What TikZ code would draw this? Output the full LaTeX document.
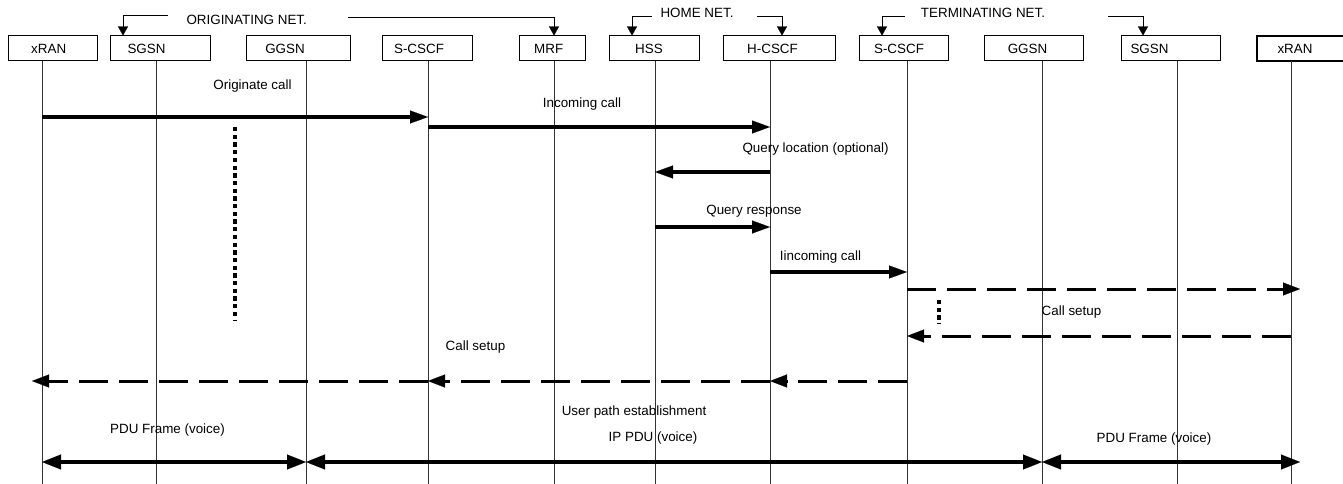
\documentclass[tikz,border=0pt]{standalone}
\usepackage{fontspec}
\setmainfont{Liberation Sans}
\usetikzlibrary{arrows.meta}
\begin{document}
\begin{tikzpicture}[x=1pt,y=-1pt,
  every node/.style={font=\fontsize{13.4}{16}\selectfont, inner sep=0pt},
  box/.style={draw, line width=1pt, minimum height=25pt},
  life/.style={line width=1pt, black!80},
  msg/.style={line width=3.3pt, -{Triangle[length=18pt,width=13pt,line width=0.1pt]}},
  reply/.style={line width=3pt, dash pattern=on 29pt off 11pt,
                -{Triangle[length=17pt,width=13pt,line width=0.1pt]}},
  pdu/.style={line width=3.3pt,
              {Triangle[length=19pt,width=15pt,line width=0.1pt]}-{Triangle[length=19pt,width=15pt,line width=0.1pt]}},
  brk/.style={line width=1pt, -{Triangle[length=9pt,width=10pt,line width=0.1pt]}},
  wait/.style={line width=4.3pt, dash pattern=on 4.3pt off 3.4pt},
]
\useasboundingbox (0,0) rectangle (1343,484);
\clip (0,0) rectangle (1343,484);

% entity boxes: name / centre x / width / label x / label
\foreach \n/\cx/\w/\tx/\t in {
  oxran/52.5/89/48.7/xRAN, osgsn/160/100/146.5/SGSN, oggsn/298/104/285/GGSN,
  oscscf/427/90/419/S-CSCF, mrf/552/66/548.7/MRF, hss/654/90/649/HSS,
  hcscf/779/112/772.5/H-CSCF, tscscf/903.5/89/899/S-CSCF,
  tggsn/1033.5/99/1027.5/GGSN, tsgsn/1170.5/99/1149.5/SGSN} {
  \node[box, minimum width=\w pt] (\n) at (\cx,48.5) {};
  \node (\n-t) at (\tx,48.5) {\t};
}
\node[box, line width=2pt, minimum width=90pt] (txran) at (1302,48.5) {};
\node (txran-t) at (1295,48.5) {xRAN};

% lifelines
\foreach \n/\x in {oxran/42, osgsn/156, oggsn/306, oscscf/428, mrf/554, hss/655,
  hcscf/770, tscscf/907, tggsn/1042, tsgsn/1177, txran/1291} {
  \coordinate (l-\n) at (\x,61);
  \coordinate (e-\n) at (\x,484);
  \draw[life] (l-\n) -- (e-\n);
}

% network groupings
\node (h-orig) at (246.7,20) {ORIGINATING NET.};
\node (h-home) at (697,13) {HOME NET.};
\node (h-term) at (983,13) {TERMINATING NET.};
\coordinate (b1) at (168,16);
\coordinate (b2) at (348,18);
\coordinate (b3) at (652,17);
\coordinate (b4) at (757,17);
\coordinate (b5) at (905,17);
\coordinate (b6) at (1108,17);
\draw[brk] (b1) -| ([xshift=-37pt]osgsn.north);
\draw[brk] (b2) -| ([xshift=2pt]mrf.north);
\draw[brk] (b3) -| ([xshift=-22pt]hss.north);
\draw[brk] (b4) -| ([xshift=3pt]hcscf.north);
\draw[brk] (b5) -| ([xshift=-21.5pt]tscscf.north);
\draw[brk] (b6) -| ([xshift=-27.5pt]tsgsn.north);

% message rows
\coordinate (r1) at (0,117);
\coordinate (r2) at (0,127);
\coordinate (r3) at (0,172);
\coordinate (r4) at (0,227);
\coordinate (r5) at (0,272);
\coordinate (r6) at (0,289);
\coordinate (r7) at (0,336);
\coordinate (r8) at (0,381);
\coordinate (r9) at (0,462);

% waiting periods
\draw[wait] (235,127) -- (235,320);
\draw[wait] (939,300) -- (939,324);

% messages
\draw[msg] (l-oxran |- r1) -- (l-oscscf |- r1);
\draw[msg] (l-oscscf |- r2) -- (l-hcscf |- r2);
\draw[msg] (l-hcscf |- r3) -- (l-hss |- r3);
\draw[msg] (l-hss |- r4) -- (l-hcscf |- r4);
\draw[msg] (l-hcscf |- r5) -- (l-tscscf |- r5);
\draw[reply, shorten >=-9pt] (l-tscscf |- r6) -- (l-txran |- r6);
\draw[reply] (l-txran |- r7) -- (l-tscscf |- r7);
\draw[reply] (l-tscscf |- r8) -- (l-hcscf |- r8);
\draw[reply] (l-hcscf |- r8) -- (l-oscscf |- r8);
\draw[reply, shorten >=-10pt] (l-oscscf |- r8) -- (l-oxran |- r8);
\draw[pdu] (l-oxran |- r9) -- (l-oggsn |- r9);
\draw[pdu] (l-oggsn |- r9) -- (l-tggsn |- r9);
\draw[pdu, shorten >=-9pt] (l-tggsn |- r9) -- (l-txran |- r9);

% message labels
\node (m-orig) at (252.5,86) {Originate call};
\node (m-inc) at (582,104) {Incoming call};
\node (m-qloc) at (815.5,149) {Query location (optional)};
\node (m-qresp) at (754,211.7) {Query response};
\node (m-iinc) at (820.5,256.7) {Iincoming call};
\node (m-setup1) at (1071.5,311.7) {Call setup};
\node (m-setup2) at (475.5,347.3) {Call setup};
\node (m-path) at (634,411.7) {User path establishment};
\node (m-ippdu) at (653,438) {IP PDU (voice)};
\node (m-frame1) at (167.5,430) {PDU Frame (voice)};
\node (m-frame2) at (1154,439.3) {PDU Frame (voice)};
\end{tikzpicture}
\end{document}
